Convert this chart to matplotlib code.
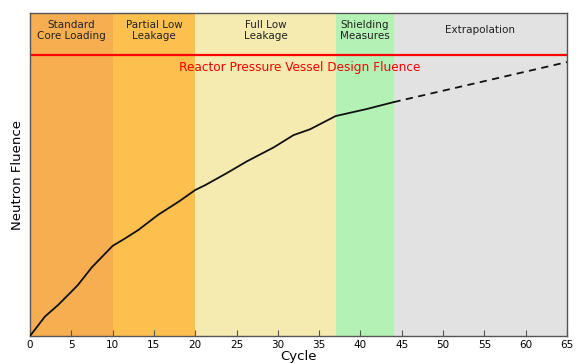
import matplotlib
matplotlib.use("Agg")
import matplotlib.pyplot as plt

# Data
cycles = [0, 1.8, 3.4, 5.0, 5.8, 7.5, 10, 11.5, 13.1, 15.5, 18, 20, 21.2, 23.8, 26.2,
          29.5, 31.9, 33.9, 37, 40.8, 44]
fluence = [0.0, 0.060, 0.096, 0.137, 0.158, 0.213, 0.279, 0.302, 0.328, 0.375, 0.416,
           0.452, 0.467, 0.504, 0.540, 0.584, 0.622, 0.640, 0.681, 0.703, 0.724]
extrap_cycles = [44, 65]
extrap_fluence = [0.724, 0.848]
design_fluence = 0.870

region_bounds = [(0, 10), (10, 20), (20, 37), (37, 44), (44, 65)]
region_labels = ["Standard\nCore Loading", "Partial Low\nLeakage", "Full Low\nLeakage",
                 "Shielding\nMeasures", "Extrapolation"]
region_colors = ["#F7AE50", "#FDC04F", "#F5EAAF", "#B4F1B4", "#E2E2E2"]

fig = plt.figure(figsize=(5.8, 3.63), dpi=100)
ax = fig.add_axes([30/580, 27/363, 537/580, 323/363])

for (a, b), lab, c in zip(region_bounds, region_labels, region_colors):
    ax.axvspan(a, b, color=c, lw=0, zorder=0)
    ax.text((a + b) / 2, 0.947, lab, ha="center", va="center", fontsize=7.5,
            color="#222222", linespacing=1.1)

ax.axhline(design_fluence, color="red", lw=1.6, zorder=2)
ax.text(32.7, 0.83, "Reactor Pressure Vessel Design Fluence", color="red",
        ha="center", va="center", fontsize=8.7)

ax.plot(cycles, fluence, color="#111111", lw=1.3, zorder=3)
ax.plot(extrap_cycles, extrap_fluence, color="#111111", lw=1.3, ls=(0, (4, 3)), zorder=3)

ax.set_xlim(0, 65)
ax.set_ylim(0, 1)
ax.set_xticks(range(0, 66, 5))
ax.set_yticks([])
ax.tick_params(axis="x", direction="in", length=4, labelsize=7.5, pad=3, color="#555555")
for s in ax.spines.values():
    s.set_color("#555555")
    s.set_linewidth(1.0)
ax.set_xlabel("Cycle", fontsize=9.5, va="top")
ax.xaxis.set_label_coords(0.5, -0.043)
ax.set_ylabel("Neutron Fluence", fontsize=9.5, va="center")
ax.yaxis.set_label_coords(-12/537, 0.5)

fig.savefig("out.png", dpi=100)
